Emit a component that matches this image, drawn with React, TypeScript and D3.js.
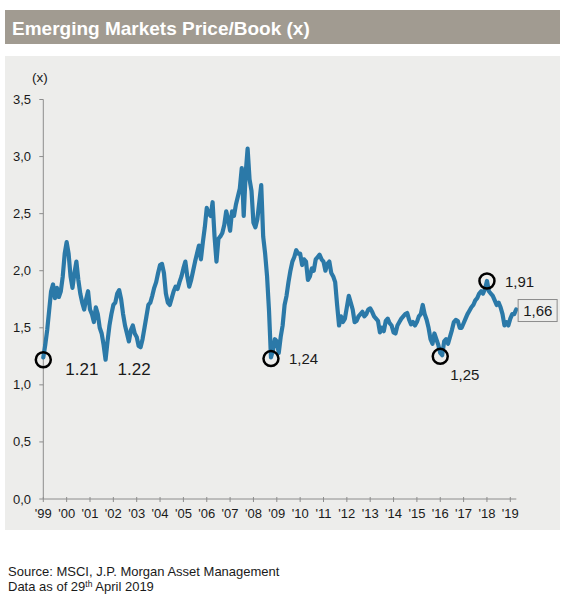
import React from "react";
import * as d3 from "d3";

// Monthly Price/Book values, Jan..Dec (2019 ends in April)
const pb1999 = [1.24, 1.35, 1.48, 1.65, 1.82, 1.88, 1.76, 1.85, 1.77, 1.82, 1.95, 2.15];
const pb2000 = [2.25, 2.15, 1.95, 1.85, 1.98, 2.08, 1.92, 1.8, 1.72, 1.66, 1.75, 1.82];
const pb2001 = [1.66, 1.62, 1.55, 1.68, 1.62, 1.5, 1.45, 1.35, 1.22, 1.38, 1.52, 1.62];
const pb2002 = [1.7, 1.72, 1.8, 1.83, 1.75, 1.62, 1.52, 1.45, 1.38, 1.48, 1.52, 1.45];
const pb2003 = [1.42, 1.34, 1.33, 1.4, 1.5, 1.6, 1.7, 1.72, 1.78, 1.85, 1.9, 1.98];
const pb2004 = [2.05, 2.06, 1.98, 1.8, 1.72, 1.7, 1.76, 1.82, 1.86, 1.84, 1.9, 1.95];
const pb2005 = [2.02, 2.08, 1.95, 1.86, 1.92, 2.0, 2.08, 2.15, 2.22, 2.1, 2.25, 2.38];
const pb2006 = [2.55, 2.5, 2.48, 2.6, 2.3, 2.08, 2.28, 2.3, 2.33, 2.4, 2.52, 2.45];
const pb2007 = [2.35, 2.52, 2.48, 2.58, 2.65, 2.72, 2.9, 2.48, 2.85, 3.07, 2.8, 2.7];
const pb2008 = [2.42, 2.38, 2.45, 2.6, 2.75, 2.3, 2.15, 1.95, 1.65, 1.24, 1.3, 1.4];
const pb2009 = [1.38, 1.28, 1.42, 1.52, 1.7, 1.78, 1.9, 2.0, 2.08, 2.12, 2.18, 2.15];
const pb2010 = [2.15, 2.05, 2.1, 2.08, 1.92, 1.95, 2.02, 2.0, 2.1, 2.12, 2.14, 2.1];
const pb2011 = [2.08, 2.0, 2.06, 2.08, 1.98, 1.95, 1.9, 1.7, 1.52, 1.6, 1.55, 1.58];
const pb2012 = [1.68, 1.78, 1.72, 1.66, 1.55, 1.56, 1.6, 1.62, 1.64, 1.6, 1.62, 1.66];
const pb2013 = [1.67, 1.64, 1.6, 1.58, 1.56, 1.46, 1.5, 1.47, 1.56, 1.58, 1.54, 1.52];
const pb2014 = [1.46, 1.45, 1.52, 1.55, 1.58, 1.6, 1.62, 1.63, 1.57, 1.53, 1.55, 1.52];
const pb2015 = [1.55, 1.6, 1.62, 1.7, 1.62, 1.57, 1.5, 1.4, 1.36, 1.45, 1.4, 1.35];
const pb2016 = [1.28, 1.26, 1.38, 1.4, 1.36, 1.42, 1.48, 1.55, 1.57, 1.56, 1.5, 1.5];
const pb2017 = [1.54, 1.58, 1.62, 1.65, 1.68, 1.7, 1.74, 1.76, 1.8, 1.82, 1.8, 1.84];
const pb2018 = [1.91, 1.82, 1.8, 1.78, 1.74, 1.7, 1.72, 1.68, 1.62, 1.52, 1.55, 1.52];
const pb2019 = [1.58, 1.62, 1.62, 1.66];

const yearlyValues = [
  pb1999, pb2000, pb2001, pb2002, pb2003, pb2004, pb2005, pb2006, pb2007, pb2008,
  pb2009, pb2010, pb2011, pb2012, pb2013, pb2014, pb2015, pb2016, pb2017, pb2018, pb2019,
];

const startYear = 1999;
const yearLabels = [
  "'99", "'00", "'01", "'02", "'03", "'04", "'05", "'06", "'07", "'08", "'09",
  "'10", "'11", "'12", "'13", "'14", "'15", "'16", "'17", "'18", "'19",
];
const yTicks = [0, 0.5, 1, 1.5, 2, 2.5, 3, 3.5];

// Marked lows / highs: year, month index, value, label
const annotations = [
  { year: 1999, month: 0, value: 1.22, label: "1.21", circle: true, dx: 22, dy: 15, size: 17 },
  { year: 2003, month: 2, value: 1.33, label: "1.22", circle: false, dx: -23, dy: 28, size: 17 },
  { year: 2008, month: 9, value: 1.23, label: "1,24", circle: true, dx: 18, dy: 5.5, size: 15 },
  { year: 2016, month: 0, value: 1.25, label: "1,25", circle: true, dx: 10, dy: 24, size: 15 },
  { year: 2018, month: 0, value: 1.91, label: "1,91", circle: true, dx: 18, dy: 6, size: 15 },
];
const latestLabel = "1,66";

const FONT = "'Liberation Sans', Arial, sans-serif";
const LINE_COLOR = "#2b79a8";
const TEXT = "#1a1a1a";

const App: React.FC = () => {
  const data = yearlyValues.flatMap((vals, i) =>
    vals.map((v, m) => ({ t: startYear + i + m / 12, v }))
  );

  const x = d3.scaleLinear().domain([1999, 2019]).range([43.3, 510.3]);
  const y = d3.scaleLinear().domain([0, 3.5]).range([499, 99.5]);

  const line = d3
    .line<{ t: number; v: number }>()
    .x((d) => x(d.t))
    .y((d) => y(d.v));

  const fmt = (v: number) => d3.format(".1f")(v).replace(".", ",");
  const last = data[data.length - 1];

  return (
    <svg
      width={582}
      height={598}
      style={{ position: "absolute", left: 0, top: 0, fontFamily: FONT }}
    >
      <rect x={0} y={0} width={582} height={598} fill="#ffffff" />
      {/* title bar */}
      <rect x={5} y={10} width={555} height={34} fill="#a19b91" />
      <text x={12} y={35} fill="#ffffff" fontSize={19} fontWeight="bold">
        Emerging Markets Price/Book (x)
      </text>

      {/* chart panel */}
      <rect x={5} y={56} width={555} height={474} fill="#ededeb" />
      <text x={32} y={82} fontSize={13.5} fill={TEXT}>
        (x)
      </text>

      {/* y axis */}
      <line x1={x(1999)} x2={x(1999)} y1={y(3.5)} y2={y(0)} stroke="#8c8c8c" />
      {yTicks.map((t) => (
        <g key={t}>
          <line x1={x(1999) - 4} x2={x(1999)} y1={y(t)} y2={y(t)} stroke="#8c8c8c" />
          <text x={31} y={y(t)} dy="0.35em" textAnchor="end" fontSize={13} fill={TEXT}>
            {fmt(t)}
          </text>
        </g>
      ))}

      {/* x axis */}
      <line x1={x(1999)} x2={x(2019) + 6} y1={y(0)} y2={y(0)} stroke="#8c8c8c" />
      {yearLabels.map((lab, i) => (
        <g key={lab}>
          <line
            x1={x(startYear + i)}
            x2={x(startYear + i)}
            y1={y(0) - 2}
            y2={y(0) + 3}
            stroke="#8c8c8c"
          />
          <text x={x(startYear + i)} y={518} textAnchor="middle" fontSize={13} fill={TEXT}>
            {lab}
          </text>
        </g>
      ))}

      {/* series */}
      <path
        d={line(data) || ""}
        fill="none"
        stroke={LINE_COLOR}
        strokeWidth={4.2}
        strokeLinejoin="round"
        strokeLinecap="round"
      />

      {/* annotations */}
      {annotations.map((a) => {
        const cx = x(a.year + a.month / 12);
        const cy = y(a.value);
        return (
          <g key={a.label}>
            {a.circle && (
              <circle cx={cx} cy={cy} r={7.5} fill="none" stroke="#000000" strokeWidth={2.5} />
            )}
            <text x={cx + a.dx} y={cy + a.dy} fontSize={a.size} fill={TEXT}>
              {a.label}
            </text>
          </g>
        );
      })}

      {/* latest value box */}
      <rect
        x={x(last.t) + 2}
        y={y(last.v) - 10}
        width={39}
        height={22}
        fill="#ededeb"
        stroke="#8c8c8c"
        strokeWidth={1}
      />
      <text x={x(last.t) + 7} y={y(last.v) + 6.5} fontSize={15} fill={TEXT}>
        {latestLabel}
      </text>

      {/* source */}
      <text x={8} y={576} fontSize={13} fill={TEXT}>
        Source: MSCI, J.P. Morgan Asset Management
      </text>
      <text x={8} y={591} fontSize={13} fill={TEXT}>
        Data as of 29
        <tspan fontSize={8.5} dy={-4}>
          th
        </tspan>
        <tspan dy={4}> April 2019</tspan>
      </text>
    </svg>
  );
};

export default App;
